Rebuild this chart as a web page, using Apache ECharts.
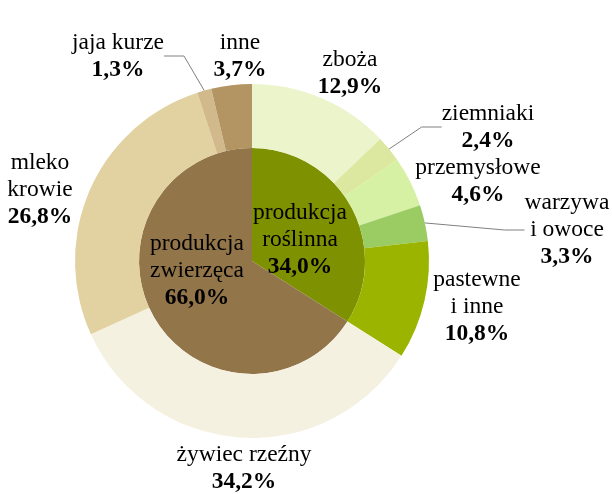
<!DOCTYPE html>
<html>
<head>
<meta charset="utf-8">
<script src="https://cdn.jsdelivr.net/npm/echarts@6/dist/echarts.min.js"></script>
<style>
  html, body { margin: 0; padding: 0; background: #fff; }
  #chart { width: 612px; height: 494px; }
</style>
</head>
<body>
<div id="chart"></div>
<script>
// dane
const innerNames = ['produkcja\nroślinna', 'produkcja\nzwierzęca']
const innerValues = [34.0, 66.0]
const innerColors = ['#7E9100', '#93754A']

const outerNames = ['zboża', 'ziemniaki', 'przemysłowe', 'warzywa\ni owoce', 'pastewne\ni inne',
  'żywiec rzeźny', 'mleko\nkrowie', 'jaja kurze', 'inne']
const outerValues = [12.9, 2.4, 4.6, 3.3, 10.8, 34.2, 26.8, 1.3, 3.7]
const outerColors = ['#EBF4CB', '#DCE89F', '#D6F0A4', '#9BCC63', '#9BB400',
  '#F5F1E1', '#E2D2A2', '#D1B98B', '#B39564']
const outerWithLine = [false, true, false, true, false, false, false, true, false]

// pozycje etykiet (środek bloku tekstu)
const innerLabelPos = [[300, 240], [197, 271]]
const outerLabelPos = [[350, 73], [488, 127], [478, 181], [567, 230], [477, 307],
  [244, 468], [40, 190], [118, 56], [240, 56]]

const chart = echarts.init(document.getElementById('chart'))

const fmt = function (p) {
  const pct = p.value.toFixed(1).replace('.', ',') + '%'
  const lines = p.name.split('\n').map(s => '{n|' + s + '}')
  return lines.join('\n') + '\n{v|' + pct + '}'
}
const rich = {
  n: { fontFamily: 'Liberation Serif', fontSize: 23.5, color: '#000', lineHeight: 27 },
  v: { fontFamily: 'Liberation Serif', fontSize: 23.5, fontWeight: 'bold', color: '#000', lineHeight: 27 }
}

const center = [252, 261]

const option = {
  animation: false,
  series: [
    {
      type: 'pie',
      center: center,
      radius: [0, 113],
      startAngle: 90,
      clockwise: true,
      silent: true,
      itemStyle: { borderWidth: 0 },
      label: { show: true, position: 'inside', formatter: fmt, rich: rich, align: 'center', overflow: 'none' },
      labelLine: { show: false },
      labelLayout: function (p) {
        const pos = innerLabelPos[p.dataIndex]
        return { x: pos[0], y: pos[1], align: 'center', verticalAlign: 'middle' }
      },
      data: innerValues.map((v, i) => ({
        value: v, name: innerNames[i], itemStyle: { color: innerColors[i] }
      }))
    },
    {
      type: 'pie',
      center: center,
      radius: [113, 177],
      startAngle: 90,
      clockwise: true,
      silent: true,
      itemStyle: { borderWidth: 0 },
      label: { show: true, position: 'outside', formatter: fmt, rich: rich, align: 'center', overflow: 'none' },
      labelLine: { show: true, length: 10, length2: 20, lineStyle: { color: '#808080', width: 1 } },
      labelLayout: function (p) {
        const pos = outerLabelPos[p.dataIndex]
        return { x: pos[0], y: pos[1], align: 'center', verticalAlign: 'middle' }
      },
      data: outerValues.map((v, i) => ({
        value: v, name: outerNames[i],
        itemStyle: { color: outerColors[i] },
        labelLine: { show: outerWithLine[i] }
      }))
    }
  ]
}
chart.setOption(option)
</script>
</body>
</html>
